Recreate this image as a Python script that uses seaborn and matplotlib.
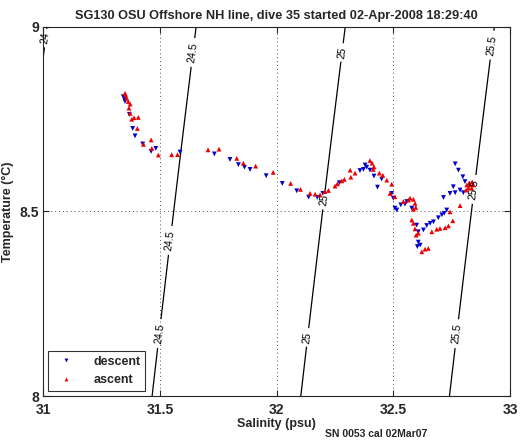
import numpy as np
import pandas as pd
import matplotlib
matplotlib.use('Agg')
import matplotlib.pyplot as plt
import seaborn as sns

# descent (down triangles) salinity / temperature
desc_sal = [31.343, 31.348, 31.350, 31.369, 31.383, 31.393, 31.426, 31.462, 31.482, 31.586,
            31.733, 31.800, 31.836, 31.862, 31.886, 31.955, 32.024, 32.086, 32.137, 32.174,
            32.198, 32.269, 32.357, 32.372, 32.386, 32.379, 32.400, 32.417, 32.432, 32.450,
            32.493, 32.500, 32.507, 32.515, 32.532, 32.550, 32.558, 32.579, 32.600, 32.607,
            32.607, 32.615, 32.603, 32.629, 32.643, 32.658, 32.672, 32.693, 32.708, 32.718,
            32.729, 32.715, 32.743, 32.757, 32.765, 32.800, 32.786, 32.807, 32.798, 32.779,
            32.765]
desc_temp = [8.811, 8.805, 8.798, 8.763, 8.725, 8.705, 8.683, 8.663, 8.671, 8.661,
             8.656, 8.641, 8.627, 8.620, 8.614, 8.597, 8.576, 8.556, 8.539, 8.538,
             8.549, 8.578, 8.611, 8.614, 8.620, 8.626, 8.612, 8.596, 8.566, 8.588,
             8.549, 8.536, 8.509, 8.504, 8.518, 8.520, 8.527, 8.509, 8.463, 8.445,
             8.417, 8.409, 8.405, 8.450, 8.462, 8.468, 8.472, 8.483, 8.491, 8.495,
             8.504, 8.538, 8.549, 8.567, 8.551, 8.551, 8.558, 8.581, 8.594, 8.612,
             8.629]

# ascent (up triangles)
asc_sal = [31.350, 31.353, 31.357, 31.364, 31.372, 31.367, 31.372, 31.379, 31.389, 31.407,
           31.403, 31.429, 31.462, 31.465, 31.493, 31.550, 31.575, 31.706, 31.753, 31.829,
           31.857, 31.910, 31.985, 32.060, 32.102, 32.143, 32.165, 32.186, 32.207, 32.222,
           32.250, 32.260, 32.279, 32.290, 32.315, 32.318, 32.336, 32.400, 32.409, 32.417,
           32.414, 32.440, 32.455, 32.472, 32.493, 32.486, 32.507, 32.543, 32.565, 32.572,
           32.586, 32.593, 32.586, 32.596, 32.579, 32.586, 32.593, 32.598, 32.607, 32.622,
           32.636, 32.650, 32.665, 32.686, 32.700, 32.722, 32.736, 32.755, 32.743, 32.786,
           32.815, 32.822, 32.829, 32.836, 32.843, 32.825, 32.838, 32.812]
asc_temp = [8.820, 8.816, 8.807, 8.798, 8.791, 8.780, 8.766, 8.750, 8.754, 8.755,
            8.725, 8.682, 8.694, 8.671, 8.653, 8.654, 8.654, 8.667, 8.669, 8.644,
            8.631, 8.623, 8.606, 8.576, 8.560, 8.549, 8.547, 8.545, 8.554, 8.557,
            8.569, 8.575, 8.583, 8.587, 8.612, 8.593, 8.604, 8.638, 8.631, 8.621,
            8.614, 8.604, 8.598, 8.585, 8.574, 8.549, 8.540, 8.527, 8.531, 8.536,
            8.533, 8.522, 8.506, 8.511, 8.477, 8.468, 8.453, 8.436, 8.441, 8.391,
            8.398, 8.400, 8.445, 8.452, 8.454, 8.456, 8.461, 8.475, 8.499, 8.516,
            8.572, 8.564, 8.572, 8.563, 8.572, 8.577, 8.580, 8.558]

sigma_levels = [24, 24.5, 25, 25.5]
x_ticks = [31, 31.5, 32, 32.5, 33]
y_ticks = [8, 8.5, 9]


def sigma_t(s, t):
    # UNESCO EOS80 at surface pressure, minus 1000
    smow = (999.842594 + 6.793952e-2 * t - 9.095290e-3 * t**2 + 1.001685e-4 * t**3
            - 1.120083e-6 * t**4 + 6.536332e-9 * t**5)
    b = 0.824493 - 4.0899e-3 * t + 7.6438e-5 * t**2 - 8.2467e-7 * t**3 + 5.3875e-9 * t**4
    c = -5.72466e-3 + 1.0227e-4 * t - 1.6546e-6 * t**2
    return smow + b * s + c * s**1.5 + 4.8314e-4 * s**2 - 1000.0


df = pd.concat([
    pd.DataFrame({'sal': desc_sal, 'temp': desc_temp, 'cast': 'descent'}),
    pd.DataFrame({'sal': asc_sal, 'temp': asc_temp, 'cast': 'ascent'}),
])

sns.set_style('ticks')
plt.rcParams['font.family'] = ['Liberation Sans', 'DejaVu Sans']
plt.rcParams['font.weight'] = 'bold'

fig = plt.figure(figsize=(5.22, 4.42), dpi=100)
ax = fig.add_axes([0.083, 0.104, 0.894, 0.835])

# density contours
sg, tg = np.meshgrid(np.linspace(30.9, 33.1, 200), np.linspace(7.9, 9.1, 200))
cs = ax.contour(sg, tg, sigma_t(sg, tg), levels=sigma_levels, colors='k', linewidths=0.9)
label_pos = [(31.006, 8.97), (31.65, 8.93), (31.565, 8.42), (31.49, 8.17),
             (32.29, 8.93), (32.21, 8.53), (32.12, 8.16),
             (32.93, 8.95), (32.845, 8.56), (32.76, 8.17)]
ax.clabel(cs, manual=label_pos, fmt='%g', fontsize=7.5, inline=True, inline_spacing=2)
for t in cs.labelTexts:
    t.set_fontweight('normal')
    t.set_clip_on(False)

sns.scatterplot(data=df, x='sal', y='temp', hue='cast', style='cast',
                markers={'descent': 'v', 'ascent': '^'},
                palette={'descent': '#0000cc', 'ascent': '#ee0000'},
                s=12, linewidth=0, ax=ax, zorder=3)

ax.set_xlim(31, 33)
ax.set_ylim(8, 9)
ax.set_xticks(x_ticks)
ax.set_xticklabels(['31', '31.5', '32', '32.5', '33'])
ax.set_yticks(y_ticks)
ax.set_yticklabels(['8', '8.5', '9'])
ax.grid(True, linestyle=(0, (1, 3)), color='#555555', linewidth=0.7)
ax.tick_params(direction='in', top=True, right=True, length=4, labelsize=10)
ax.tick_params(axis='x', pad=5)
ax.tick_params(axis='y', pad=3)
for sp in ax.spines.values():
    sp.set_linewidth(0.8)
    sp.set_visible(True)

ax.set_xlabel('Salinity (psu)', fontsize=9, fontweight='bold', labelpad=1)
ax.set_ylabel('Temperature (°C)', fontsize=9, fontweight='bold', labelpad=4)
ax.set_title('SG130 OSU Offshore NH line, dive 35 started 02-Apr-2008 18:29:40',
             fontsize=9.2, fontweight='bold', pad=6)

leg = ax.legend(loc='lower left', fontsize=9, frameon=True, fancybox=False,
                edgecolor='k', handletextpad=1.2, borderaxespad=0.4,
                markerscale=0.8)
leg.get_frame().set_linewidth(0.8)
for t in leg.get_texts():
    t.set_fontweight('bold')

fig.text(0.623, 0.018, 'SN 0053 cal 02Mar07', fontsize=7.5, fontweight='bold', va='center')

fig.savefig('out.png', dpi=100)
